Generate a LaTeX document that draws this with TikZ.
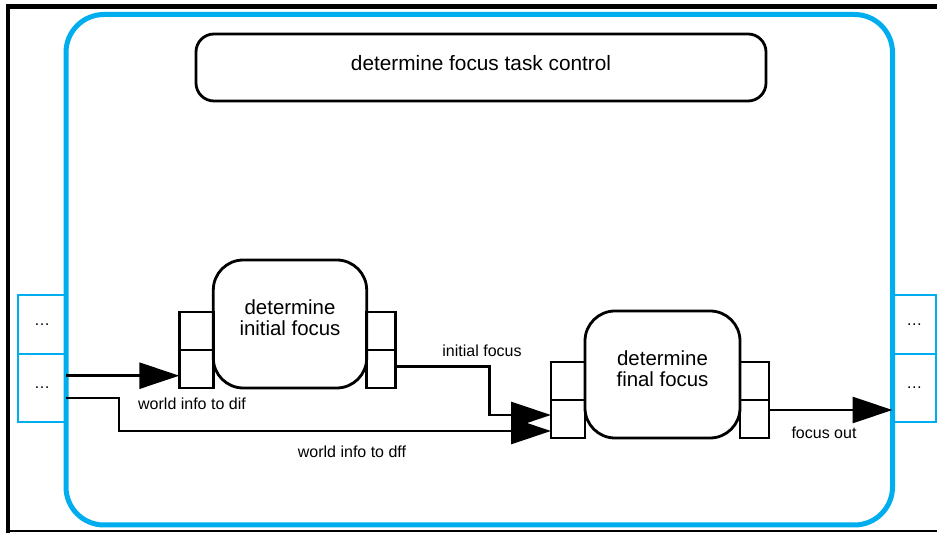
\documentclass[tikz,border=0pt]{standalone}
\usepackage{fontspec}
\setmainfont{Liberation Sans}
\usetikzlibrary{positioning,arrows.meta,calc}
\definecolor{frameblue}{RGB}{0,174,239}
\begin{document}
\begin{tikzpicture}[x=0.5pt, y=-0.5pt,
    task/.style = {draw, line width=1.4pt, rounded corners=15pt, align=center, outer sep=0pt, minimum width=76.7pt, minimum height=64pt, text depth=6pt, font=\fontsize{10.2}{10.5}\selectfont},
    port/.style = {draw, line width=1.4pt, outer sep=0pt, inner sep=0pt, minimum width=17pt, minimum height=19pt},
    bport/.style = {draw=frameblue, line width=1pt, outer sep=0pt, inner sep=0pt, minimum width=24pt, font=\fontsize{8}{9}\selectfont},
    flow/.style = {line width=1.4pt, -{Triangle[length=20pt, width=13pt]}},
    lbl/.style = {font=\fontsize{8}{9}\selectfont, inner sep=1pt}]
    \useasboundingbox (0,0) rectangle (937,533);
    \draw[line width=2.2pt] (8,533) -- (8,6.5) -- (937,6.5);
    \draw[line width=1pt] (8,531) -- (937,531);
        \node[bport, minimum height=29.5pt, anchor=north east] (lp1) at (66,295) {\dots};
        \node[bport, minimum height=34pt, below=0pt of lp1] (lp2) {\dots};
        \node[bport, minimum width=21.75pt, minimum height=29.5pt, anchor=north west] (rp1) at (892.5,295) {\dots};
        \node[bport, minimum width=21.75pt, minimum height=34pt, below=0pt of rp1] (rp2) {\dots};
        \node[draw=frameblue, line width=2.5pt, rounded corners=19pt, outer sep=0pt, minimum width=413.25pt, minimum height=255.25pt] (frame) at (479.25,269.75) {};
        \node[task, rounded corners=9pt, minimum width=285pt, minimum height=33.5pt, text depth=5pt, font=\fontsize{10.4}{12}\selectfont] (ctrl) at (481,67.5) {determine focus task control};
        \node[task] (init) at (290,324) {determine\\initial focus};
        \node[port, anchor=south east] (il2) at (init.south west) {};
        \node[port, above=0pt of il2] (il1) {};
        \node[port, minimum width=14.5pt, anchor=south west] (ir2) at (init.south east) {};
        \node[port, minimum width=14.5pt, above=0pt of ir2] (ir1) {};
        \node[task, minimum width=77.5pt, minimum height=63.5pt] (final) at (662.5,374.5) {determine\\final focus};
        \node[port, anchor=south east] (fl2) at (final.south west) {};
        \node[port, above=0pt of fl2] (fl1) {};
        \node[port, minimum width=14.5pt, anchor=south west] (fr2) at (final.south east) {};
        \node[port, minimum width=14.5pt, above=0pt of fr2] (fr1) {};
        \draw[flow] ($(il2.west -| lp2.east)+(0,6.7)$) -- ($(il2.west)+(0,6.7)$);
        \draw[flow] ($(lp2.east)+(0,10)$) -- ++(53,0) |- ($(fl2.west)+(0,12)$);
        \draw[flow] ($(ir2.east)+(0,-2.3)$) -- ++(94,0) |- ($(fl2.west)+(0,-4)$);
        \draw[flow] ($(fr2.east)+(0,-9)$) -- ($(fr2.east -| rp2.west)+(0,-9)$);
        \node[lbl] (l1) at (192,404) {world info to dif};
        \node[lbl] (l2) at (352,452) {world info to dff};
        \node[lbl] (l3) at (482,351) {initial focus};
        \node[lbl] (l4) at (824,433) {focus out};
    \end{tikzpicture}
\end{document}
